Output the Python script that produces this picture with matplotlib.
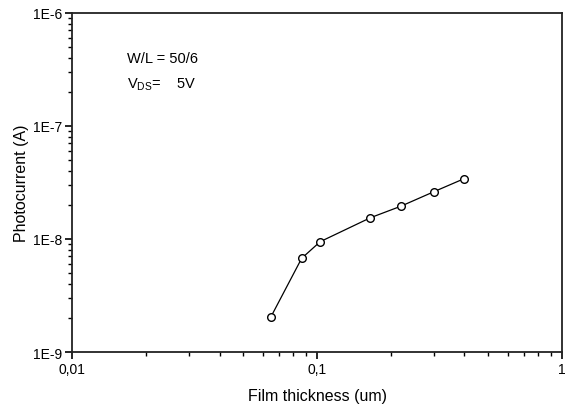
import math
import matplotlib
matplotlib.use("Agg")
import matplotlib.pyplot as plt
from matplotlib.ticker import LogLocator, FuncFormatter, NullFormatter

plt.rcParams['font.family'] = ['Liberation Sans', 'DejaVu Sans']

# film thickness [um] and photocurrent [A]
thickness = [0.0648, 0.0866, 0.103, 0.165, 0.220, 0.300, 0.399]
photocurrent = [2.04e-9, 6.75e-9, 9.46e-9, 1.54e-8, 1.95e-8, 2.62e-8, 3.42e-8]

fig = plt.figure(figsize=(5.68, 4.10), dpi=100)
ax = fig.add_axes([0.1268, 0.139, 0.8626, 0.827])

ax.plot(thickness, photocurrent, '-o', color='k', lw=0.9,
        markersize=5.5, markerfacecolor='white', markeredgecolor='k', markeredgewidth=1.0)

ax.set_xscale('log')
ax.set_yscale('log')
ax.set_xlim(0.01, 1)
ax.set_ylim(1e-9, 1e-6)

def xfmt(v, pos):
    return ('%g' % v).replace('.', ',')

def yfmt(v, pos):
    return '1E%d' % round(math.log10(v))

ax.xaxis.set_major_locator(LogLocator(base=10, numticks=10))
ax.xaxis.set_minor_locator(LogLocator(base=10, subs=range(2, 10), numticks=20))
ax.xaxis.set_major_formatter(FuncFormatter(xfmt))
ax.xaxis.set_minor_formatter(NullFormatter())
ax.yaxis.set_major_locator(LogLocator(base=10, numticks=10))
ax.yaxis.set_minor_locator(LogLocator(base=10, subs=range(2, 10), numticks=20))
ax.yaxis.set_major_formatter(FuncFormatter(yfmt))
ax.yaxis.set_minor_formatter(NullFormatter())

for s in ax.spines.values():
    s.set_linewidth(1.3)
    s.set_color('#222222')
ax.tick_params(which='major', direction='out', length=5, width=1.2, labelsize=10, pad=2)
ax.tick_params(which='minor', direction='out', length=3, width=1.0)

ax.set_xlabel('Film thickness (um)', fontsize=11.5, labelpad=9)
ax.set_ylabel('Photocurrent (A)', fontsize=11.5, labelpad=3)

ax.text(0.112, 0.855, 'W/L = 50/6', transform=ax.transAxes, fontsize=10.5)
ax.text(0.112, 0.78, r'V$_{\mathregular{DS}}$=    5V', transform=ax.transAxes, fontsize=10.5)

fig.savefig('out.png', dpi=100)
